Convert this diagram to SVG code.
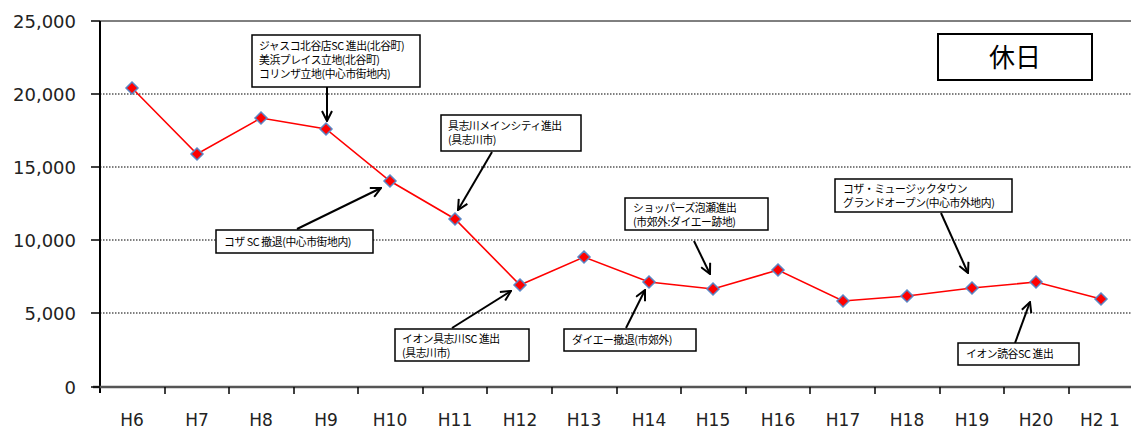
<svg xmlns="http://www.w3.org/2000/svg" width="1131" height="433" viewBox="0 0 1131 433">
<style>
.ylab{font-family:"DejaVu Sans",Verdana,sans-serif;font-size:18px;fill:#222;text-anchor:end}
.xlab{font-family:"DejaVu Sans",Verdana,sans-serif;font-size:17px;fill:#222;text-anchor:middle}
.grid{stroke:#000;stroke-width:1.2;stroke-dasharray:1.5 1.5;fill:none}
.box{fill:#fff;stroke:#000;stroke-width:1.5}
.note{font-family:"Noto Sans CJK JP","Noto Sans CJK SC",sans-serif;font-size:10.8px;fill:#000;letter-spacing:-0.4px}
.arrow{stroke:#000;stroke-width:2;fill:none;marker-end:url(#ah)}
.series{stroke:#ff0000;stroke-width:1.6;fill:none}
.mk{fill:#ff0000;stroke:#5b86c5;stroke-width:1.5}
</style>
<defs>
<marker id="ah" viewBox="0 0 12 12" refX="11" refY="6" markerWidth="12" markerHeight="12" markerUnits="userSpaceOnUse" orient="auto">
<path d="M1,1 L11,6 L1,11" fill="none" stroke="#000" stroke-width="2"/>
</marker>
<path id="dm" d="M0,-6 L6,0 L0,6 L-6,0 Z"/>
</defs>
<rect width="1131" height="433" fill="#fff"/>
<g id="axes">
<line x1="100" y1="21" x2="1131" y2="21" stroke="#000" stroke-width="1"/>
<line class="grid" x1="100" y1="94" x2="1131" y2="94"/>
<line class="grid" x1="100" y1="167" x2="1131" y2="167"/>
<line class="grid" x1="100" y1="240" x2="1131" y2="240"/>
<line class="grid" x1="100" y1="313" x2="1131" y2="313"/>
<line x1="100" y1="21" x2="100" y2="393" stroke="#000" stroke-width="2"/>
<line x1="93" y1="387" x2="1131" y2="387" stroke="#555" stroke-width="2.5"/>
<g stroke="#000" stroke-width="1.5">
<line x1="91" y1="21" x2="100" y2="21"/><line x1="91" y1="94" x2="100" y2="94"/><line x1="91" y1="167" x2="100" y2="167"/><line x1="91" y1="240" x2="100" y2="240"/><line x1="91" y1="313" x2="100" y2="313"/><line x1="91" y1="387" x2="100" y2="387"/>
<line x1="165" y1="387" x2="165" y2="394"/><line x1="229" y1="387" x2="229" y2="394"/><line x1="294" y1="387" x2="294" y2="394"/><line x1="358" y1="387" x2="358" y2="394"/><line x1="423" y1="387" x2="423" y2="394"/><line x1="487" y1="387" x2="487" y2="394"/><line x1="552" y1="387" x2="552" y2="394"/><line x1="617" y1="387" x2="617" y2="394"/><line x1="681" y1="387" x2="681" y2="394"/><line x1="746" y1="387" x2="746" y2="394"/><line x1="810" y1="387" x2="810" y2="394"/><line x1="875" y1="387" x2="875" y2="394"/><line x1="940" y1="387" x2="940" y2="394"/><line x1="1004" y1="387" x2="1004" y2="394"/><line x1="1069" y1="387" x2="1069" y2="394"/>
</g>
<text class="ylab" x="76" y="28">25,000</text>
<text class="ylab" x="76" y="101">20,000</text>
<text class="ylab" x="76" y="174">15,000</text>
<text class="ylab" x="76" y="247">10,000</text>
<text class="ylab" x="76" y="320">5,000</text>
<text class="ylab" x="76" y="394">0</text>
<text class="xlab" x="132" y="426">H6</text>
<text class="xlab" x="197" y="426">H7</text>
<text class="xlab" x="261" y="426">H8</text>
<text class="xlab" x="326" y="426">H9</text>
<text class="xlab" x="390" y="426">H10</text>
<text class="xlab" x="455" y="426">H11</text>
<text class="xlab" x="520" y="426">H12</text>
<text class="xlab" x="584" y="426">H13</text>
<text class="xlab" x="649" y="426">H14</text>
<text class="xlab" x="713" y="426">H15</text>
<text class="xlab" x="778" y="426">H16</text>
<text class="xlab" x="843" y="426">H17</text>
<text class="xlab" x="907" y="426">H18</text>
<text class="xlab" x="972" y="426">H19</text>
<text class="xlab" x="1036" y="426">H20</text>
<text class="xlab" x="1100" y="426">H2 1</text>
</g>
<g id="series">
<polyline class="series" points="132,88 197,154 261,118 326,129 390,181 455,219 520,285 584,257 649,282 713,289 778,270 843,301 907,296 972,288 1036,282 1101,299"/>
<g class="mk">
<use href="#dm" x="132" y="88"/><use href="#dm" x="197" y="154"/><use href="#dm" x="261" y="118"/><use href="#dm" x="326" y="129"/><use href="#dm" x="390" y="181"/><use href="#dm" x="455" y="219"/><use href="#dm" x="520" y="285"/><use href="#dm" x="584" y="257"/><use href="#dm" x="649" y="282"/><use href="#dm" x="713" y="289"/><use href="#dm" x="778" y="270"/><use href="#dm" x="843" y="301"/><use href="#dm" x="907" y="296"/><use href="#dm" x="972" y="288"/><use href="#dm" x="1036" y="282"/><use href="#dm" x="1101" y="299"/>
</g>
</g>
<g id="connectors">
<line class="arrow" x1="327" y1="87" x2="327" y2="121"/>
<line class="arrow" x1="492" y1="152" x2="458" y2="210"/>
<line class="arrow" x1="297" y1="229" x2="381" y2="188"/>
<line class="arrow" x1="452" y1="328" x2="511" y2="291"/>
<line class="arrow" x1="626" y1="328" x2="645" y2="290"/>
<line class="arrow" x1="694" y1="241" x2="710" y2="274"/>
<line class="arrow" x1="941" y1="213" x2="968" y2="273"/>
<line class="arrow" x1="1015" y1="343" x2="1030" y2="302"/>
</g>
<g id="note-jusco">
<rect class="box" x="252" y="35" width="168" height="52"/>
<text class="note" x="259" y="50">ジャスコ北谷店SC 進出(北谷町)</text>
<text class="note" x="259" y="64">美浜プレイス立地(北谷町)</text>
<text class="note" x="259" y="78">コリンザ立地(中心市街地内)</text>
</g>
<g id="note-gushikawa-main">
<rect class="box" x="441" y="115" width="140" height="36"/>
<text class="note" x="448" y="130">具志川メインシティ進出</text>
<text class="note" x="448" y="144">(具志川市)</text>
</g>
<g id="note-koza-sc">
<rect class="box" x="216" y="230" width="157" height="23"/>
<text class="note" x="224" y="246">コザ SC 撤退(中心市街地内)</text>
</g>
<g id="note-aeon-gushikawa">
<rect class="box" x="395" y="329" width="134" height="32"/>
<text class="note" x="402" y="343">イオン具志川SC 進出</text>
<text class="note" x="402" y="357">(具志川市)</text>
</g>
<g id="note-daiei">
<rect class="box" x="564" y="329" width="132" height="22"/>
<text class="note" x="572" y="344">ダイエー撤退(市郊外)</text>
</g>
<g id="note-shoppers">
<rect class="box" x="625" y="198" width="143" height="32"/>
<text class="note" x="633" y="212">ショッパーズ泡瀬進出</text>
<text class="note" x="633" y="226">(市郊外:ダイエー跡地)</text>
</g>
<g id="note-music-town">
<rect class="box" x="835" y="179" width="177" height="33"/>
<text class="note" x="843" y="193">コザ・ミュージックタウン</text>
<text class="note" x="843" y="207">グランドオープン(中心市外地内)</text>
</g>
<g id="note-aeon-yomitan">
<rect class="box" x="958" y="343" width="121" height="22"/>
<text class="note" x="966" y="358">イオン読谷SC 進出</text>
</g>
<g id="title-box">
<rect x="938" y="34" width="154" height="46" fill="#fff" stroke="#000" stroke-width="2"/>
<text x="1015" y="67" font-family="Noto Sans CJK JP,sans-serif" font-size="26" text-anchor="middle" fill="#000">休日</text>
</g>
</svg>
